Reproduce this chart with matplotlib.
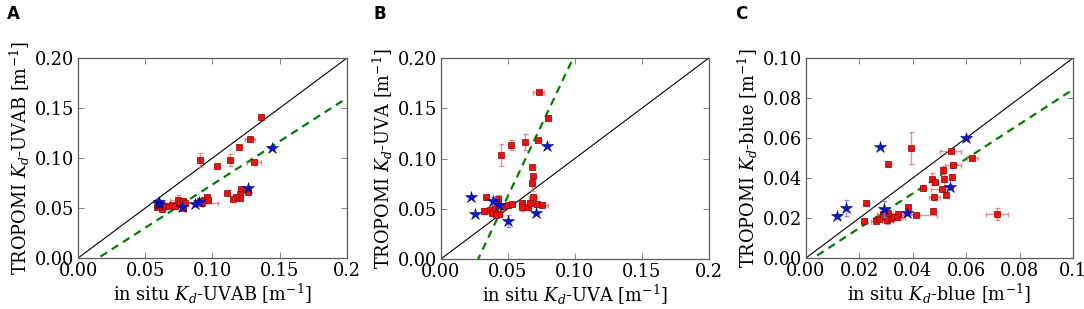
import matplotlib
matplotlib.use('Agg')
import matplotlib.pyplot as plt

# ---- panel A: UVAB ----
a_x = [0.136, 0.128, 0.120, 0.0905, 0.1033, 0.1128, 0.131, 0.1266, 0.1212, 0.1204,
       0.1204, 0.1175, 0.1152, 0.1105, 0.0585, 0.0627, 0.0642, 0.0677, 0.0699, 0.0721,
       0.0746, 0.0758, 0.0778, 0.0796, 0.0907, 0.0937, 0.0959, 0.0964, 0.092, 0.078]
a_y = [0.141, 0.119, 0.111, 0.098, 0.092, 0.098, 0.0963, 0.0657, 0.0687, 0.064,
       0.0597, 0.0613, 0.059, 0.0647, 0.0507, 0.0487, 0.0523, 0.0523, 0.053, 0.052,
       0.058, 0.0547, 0.0567, 0.0553, 0.057, 0.058, 0.061, 0.058, 0.055, 0.050]
a_xerr = [0.001, 0.004, 0.001, 0.001, 0.001, 0.001, 0.005, 0.001, 0.001, 0.001,
          0.001, 0.001, 0.001, 0.001, 0.001, 0.001, 0.002, 0.002, 0.002, 0.002,
          0.006, 0.003, 0.002, 0.002, 0.003, 0.002, 0.001, 0.001, 0.012, 0.002]
a_yerr = [0.001, 0.002, 0.001, 0.007, 0.002, 0.006, 0.001, 0.002, 0.002, 0.001,
          0.001, 0.001, 0.001, 0.002, 0.002, 0.001, 0.001, 0.001, 0.001, 0.002,
          0.005, 0.002, 0.001, 0.001, 0.001, 0.001, 0.002, 0.001, 0.001, 0.002]
a_star_x = [0.0605, 0.060, 0.077, 0.087, 0.0897, 0.1266, 0.144]
a_star_y = [0.0563, 0.054, 0.0507, 0.054, 0.056, 0.0703, 0.1097]
a_star_yerr = [0.002, 0.001, 0.002, 0.001, 0.001, 0.001, 0.001]
a_fit = (0.865, -0.013)

# ---- panel B: UVA ----
b_x = [0.0731, 0.0801, 0.0726, 0.0627, 0.0522, 0.0448, 0.0677, 0.0687, 0.0677, 0.0689,
       0.0336, 0.0323, 0.0363, 0.0378, 0.040, 0.0423, 0.0435, 0.041, 0.0458, 0.0502,
       0.0527, 0.0602, 0.0602, 0.0652, 0.0664, 0.0719, 0.0756]
b_y = [0.166, 0.140, 0.118, 0.1167, 0.1134, 0.1035, 0.0919, 0.0826, 0.0753, 0.0614,
       0.062, 0.048, 0.0488, 0.0455, 0.0504, 0.0594, 0.0448, 0.0438, 0.0527, 0.054,
       0.0544, 0.056, 0.052, 0.052, 0.0554, 0.055, 0.0534]
b_xerr = [0.004, 0.001, 0.002, 0.001, 0.001, 0.001, 0.001, 0.001, 0.001, 0.003,
          0.001, 0.002, 0.002, 0.002, 0.002, 0.002, 0.002, 0.002, 0.002, 0.002,
          0.002, 0.002, 0.002, 0.002, 0.002, 0.002, 0.004]
b_yerr = [0.001, 0.001, 0.001, 0.008, 0.005, 0.011, 0.002, 0.002, 0.008, 0.002,
          0.001, 0.003, 0.004, 0.002, 0.002, 0.004, 0.002, 0.002, 0.002, 0.002,
          0.002, 0.003, 0.004, 0.002, 0.002, 0.002, 0.002]
b_star_x = [0.0221, 0.0251, 0.0388, 0.0435, 0.050, 0.0709, 0.0789]
b_star_y = [0.0614, 0.0448, 0.058, 0.0537, 0.0375, 0.0461, 0.112]
b_star_yerr = [0.001, 0.001, 0.004, 0.002, 0.006, 0.001, 0.001]
b_fit = (2.82, -0.0784)

# ---- panel C: blue ----
c_x = [0.0392, 0.0306, 0.0542, 0.0551, 0.0623, 0.0513, 0.0547, 0.0471, 0.0483, 0.0516,
       0.0438, 0.0509, 0.0523, 0.0481, 0.0226, 0.0381, 0.0477, 0.0716, 0.0411, 0.0216,
       0.0263, 0.0273, 0.030, 0.0305, 0.0317, 0.033, 0.0346, 0.0307, 0.034, 0.0287]
c_y = [0.0552, 0.0468, 0.0537, 0.0465, 0.0498, 0.044, 0.0403, 0.0395, 0.0382, 0.0393,
       0.0348, 0.0343, 0.0315, 0.0305, 0.0277, 0.0257, 0.0237, 0.022, 0.0215, 0.0185,
       0.0185, 0.0193, 0.0207, 0.019, 0.0198, 0.0203, 0.022, 0.0223, 0.0207, 0.022]
c_xerr = [0.0005, 0.0005, 0.004, 0.003, 0.002, 0.0005, 0.0005, 0.0005, 0.001, 0.0005,
          0.0005, 0.004, 0.0005, 0.002, 0.0005, 0.0005, 0.0005, 0.004, 0.008, 0.0005,
          0.002, 0.002, 0.003, 0.002, 0.003, 0.003, 0.006, 0.002, 0.003, 0.002]
c_yerr = [0.008, 0.0005, 0.0005, 0.0005, 0.001, 0.002, 0.001, 0.003, 0.001, 0.004,
          0.0005, 0.0005, 0.0005, 0.001, 0.0005, 0.001, 0.001, 0.003, 0.001, 0.001,
          0.001, 0.001, 0.003, 0.002, 0.002, 0.001, 0.001, 0.001, 0.001, 0.001]
c_star_x = [0.0598, 0.0277, 0.0538, 0.0151, 0.0116, 0.0293, 0.038]
c_star_y = [0.0602, 0.0557, 0.0353, 0.025, 0.021, 0.0247, 0.0223]
c_star_yerr = [0.0005, 0.0005, 0.001, 0.004, 0.001, 0.004, 0.001]
c_fit = (0.866, -0.00234)

ab_ticks = [0.0, 0.05, 0.10, 0.15, 0.20]
ab_ylabels = ['0.00', '0.05', '0.10', '0.15', '0.20']
ab_xlabels = ['0.00', '0.05', '0.10', '0.15', '0.2']
c_ticks = [0.0, 0.02, 0.04, 0.06, 0.08, 0.10]
c_ylabels = ['0.00', '0.02', '0.04', '0.06', '0.08', '0.10']
c_xlabels = ['0.00', '0.02', '0.04', '0.06', '0.08', '0.1']

plt.rcParams['font.family'] = ['DejaVu Serif']
plt.rcParams['mathtext.fontset'] = 'dejavuserif'
FS = 12.8


def draw_panel(ax, x, y, xerr, yerr, sx, sy, syerr, fit, lim, ticks, xlabels, ylabels, band):
    ax.plot([0, lim], [0, lim], color='black', lw=0.8, zorder=1)
    xs = [0, lim]
    ax.plot(xs, [fit[0] * v + fit[1] for v in xs], color='green', lw=1.6,
            ls=(0, (3.5, 2.5)), zorder=2)
    ax.errorbar(x, y, xerr=xerr, yerr=yerr, fmt='none', ecolor='#e06a6a',
                elinewidth=1, capsize=1.8, alpha=0.75, zorder=3)
    ax.plot(x, y, ls='none', marker='s', ms=4.3, mfc='#e8120f', mec='#8a0000',
            mew=0.5, zorder=4)
    ax.errorbar(sx, sy, yerr=syerr, fmt='none', ecolor='#7a7ae0',
                elinewidth=1, capsize=1.8, alpha=0.8, zorder=5)
    ax.plot(sx, sy, ls='none', marker='*', ms=9, mfc='#0a14d8', mec='#00006a',
            mew=0.4, zorder=6)
    ax.set_xlim(0, lim)
    ax.set_ylim(0, lim)
    ax.set_xticks(ticks)
    ax.set_xticklabels(xlabels)
    ax.set_yticks(ticks)
    ax.set_yticklabels(ylabels)
    ax.tick_params(direction='in', top=True, right=True, length=4, width=0.6,
                   color='0.45', pad=3, labelsize=FS)
    for s in ax.spines.values():
        s.set_color('0.35')
        s.set_linewidth(0.9)
    ax.set_xlabel('in situ $K_d$-%s [m$^{-1}$]' % band, fontsize=FS, labelpad=1)
    ax.set_ylabel('TROPOMI $K_d$-%s [m$^{-1}$]' % band, fontsize=FS, labelpad=2)


fig = plt.figure(figsize=(10.84, 3.09), dpi=100)
axA = fig.add_axes([0.072, 0.165, 0.248, 0.647])
axB = fig.add_axes([0.4068, 0.162, 0.247, 0.650])
axC = fig.add_axes([0.7435, 0.165, 0.2463, 0.647])

draw_panel(axA, a_x, a_y, a_xerr, a_yerr, a_star_x, a_star_y, a_star_yerr, a_fit,
           0.2, ab_ticks, ab_xlabels, ab_ylabels, 'UVAB')
draw_panel(axB, b_x, b_y, b_xerr, b_yerr, b_star_x, b_star_y, b_star_yerr, b_fit,
           0.2, ab_ticks, ab_xlabels, ab_ylabels, 'UVA')
draw_panel(axC, c_x, c_y, c_xerr, c_yerr, c_star_x, c_star_y, c_star_yerr, c_fit,
           0.1, c_ticks, c_xlabels, c_ylabels, 'blue')

for lbl, xpos in [('A', 0.006), ('B', 0.345), ('C', 0.678)]:
    fig.text(xpos, 0.925, lbl, fontsize=12, fontweight='bold',
             family=['DejaVu Sans'], va='bottom')

fig.savefig('out.png', dpi=100)
